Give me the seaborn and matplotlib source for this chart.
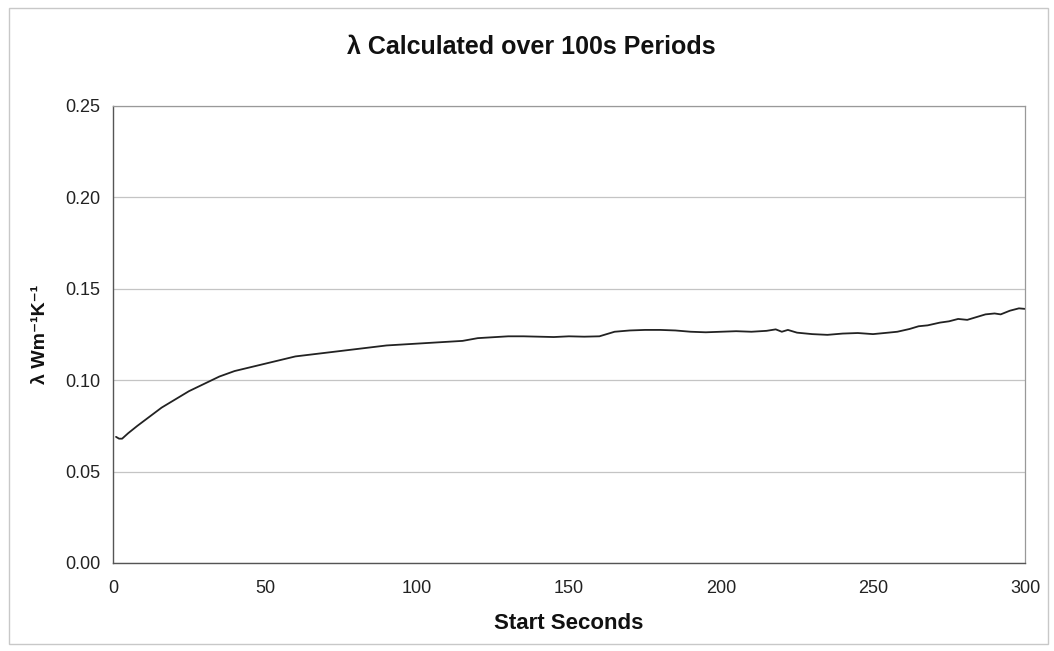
import matplotlib
matplotlib.use("Agg")
import matplotlib.pyplot as plt
import seaborn as sns
import pandas as pd
from matplotlib.patches import Rectangle

# values
start_seconds = [1, 2, 3, 5, 8, 12, 16, 20, 25, 30, 35, 40, 45, 50, 55, 60, 65, 70, 75, 80,
                 85, 90, 95, 100, 105, 110, 115, 120, 125, 130, 135, 140, 145, 150, 155, 160,
                 165, 170, 175, 180, 185, 190, 195, 200, 205, 210, 215, 218, 220, 222, 225,
                 230, 235, 240, 245, 250, 255, 258, 262, 265, 268, 272, 275, 278, 281, 284,
                 287, 290, 292, 295, 298, 300]
lambda_vals = [0.069, 0.068, 0.068, 0.071, 0.075, 0.080, 0.085, 0.089, 0.094, 0.098, 0.102,
               0.105, 0.107, 0.109, 0.111, 0.113, 0.114, 0.115, 0.116, 0.117, 0.118, 0.119,
               0.1195, 0.120, 0.1205, 0.121, 0.1215, 0.123, 0.1235, 0.124, 0.124, 0.1238,
               0.1236, 0.124, 0.1238, 0.124, 0.1265, 0.1272, 0.1275, 0.1275, 0.1272, 0.1265,
               0.1262, 0.1265, 0.1268, 0.1265, 0.127, 0.1278, 0.1265, 0.1275, 0.126, 0.1252,
               0.1248, 0.1255, 0.1258, 0.1252, 0.126, 0.1265, 0.128, 0.1295, 0.130, 0.1315,
               0.1322, 0.1335, 0.133, 0.1345, 0.136, 0.1365, 0.136, 0.138, 0.1393, 0.139]
y_ticks = [0.00, 0.05, 0.10, 0.15, 0.20, 0.25]
x_ticks = [0, 50, 100, 150, 200, 250, 300]

df = pd.DataFrame({"t": start_seconds, "lam": lambda_vals})

sns.set_style("white")
plt.rcParams["font.family"] = ["Liberation Sans", "DejaVu Sans"]

fig = plt.figure(figsize=(10.54, 6.51), dpi=100)
ax = fig.add_axes([0.1072, 0.1352, 0.8653, 0.702])

sns.lineplot(data=df, x="t", y="lam", ax=ax, color="#222222", linewidth=1.3)

ax.set_xlim(0, 300)
ax.set_ylim(0, 0.25)
ax.set_xticks(x_ticks)
ax.set_yticks(y_ticks)
ax.set_yticklabels([f"{v:.2f}" for v in y_ticks])
ax.yaxis.grid(True, color="#c4c4c4", linewidth=0.9)
ax.tick_params(axis="both", direction="out", length=5, width=0.8, color="#555555",
               labelsize=13, labelcolor="#222222", pad=4)
ax.tick_params(axis="x", pad=7)

for side in ["left", "bottom"]:
    ax.spines[side].set_color("#555555")
    ax.spines[side].set_linewidth(1.0)
for side in ["right", "top"]:
    ax.spines[side].set_color("#999999")
    ax.spines[side].set_linewidth(0.9)

ax.set_xlabel("Start Seconds", fontsize=16, fontweight="bold", color="#111111", labelpad=12)
ax.set_ylabel("λ Wm⁻¹K⁻¹", fontsize=14, fontweight="bold", color="#111111", labelpad=12)
fig.suptitle("λ Calculated over 100s Periods", x=0.504, y=0.947, fontsize=18,
             fontweight="bold", color="#111111")

fig.patches.append(Rectangle((0.009, 0.01), 0.985, 0.978, transform=fig.transFigure,
                             fill=False, edgecolor="#c8c8c8", linewidth=1.0))

fig.savefig("out.png", dpi=100)
